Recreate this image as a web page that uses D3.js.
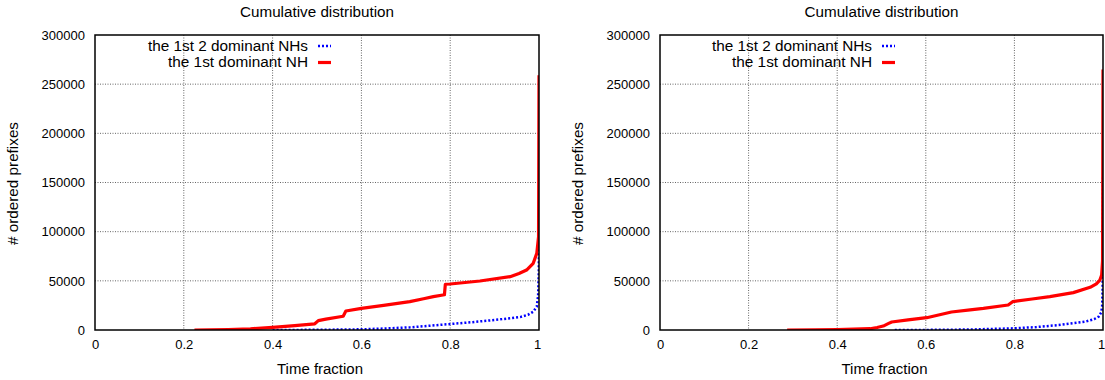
<!DOCTYPE html>
<html>
<head>
<meta charset="utf-8">
<script src="https://cdn.jsdelivr.net/npm/d3@7"></script>
<style>
  html, body { margin: 0; padding: 0; background: #fff; }
  svg { display: block; }
  text { font-family: "Liberation Sans", Arial, sans-serif; font-size: 13px; fill: #000; }
</style>
</head>
<body>
<script>
// Axis ticks shared by both panels
const xTicks = [0, 0.2, 0.4, 0.6, 0.8, 1];
const yTicks = [0, 50000, 100000, 150000, 200000, 250000, 300000];

const seriesNames = ["the 1st 2 dominant NHs", "the 1st dominant NH"];

// Left panel: time fraction vs. cumulative number of ordered prefixes
const leftTwoT = [0.40, 0.50, 0.60, 0.65, 0.71, 0.75, 0.80, 0.85, 0.90, 0.94, 0.96, 0.975, 0.987, 0.995, 0.998, 0.9995, 1.0];
const leftTwoV = [0, 200, 700, 1500, 2700, 4200, 6100, 8000, 10200, 12200, 13500, 15500, 18600, 23700, 35000, 60000, 97000];

const leftOneT = [0.224, 0.26, 0.30, 0.35, 0.40, 0.45, 0.495, 0.503, 0.52, 0.559, 0.565, 0.60, 0.65, 0.709, 0.74, 0.762, 0.787, 0.789, 0.80, 0.867, 0.935, 0.955, 0.972, 0.987, 0.995, 0.999, 1.0];
const leftOneV = [0, 100, 400, 1200, 2600, 4400, 6300, 9500, 11000, 14000, 19300, 22000, 25000, 28800, 31800, 33900, 35800, 46500, 46800, 49800, 54200, 57500, 61000, 67800, 78000, 95000, 259000];

// Right panel
const rightTwoT = [0.53, 0.60, 0.70, 0.80, 0.85, 0.90, 0.96, 0.98, 0.99, 0.996, 0.998, 0.999, 1.0];
const rightTwoV = [0, 100, 500, 1700, 3000, 5000, 8500, 11000, 13500, 18000, 23700, 40000, 155000];

const rightOneT = [0.287, 0.35, 0.40, 0.474, 0.49, 0.504, 0.515, 0.523, 0.56, 0.602, 0.658, 0.70, 0.73, 0.786, 0.796, 0.84, 0.88, 0.933, 0.971, 0.985, 0.993, 0.997, 0.999, 1.0];
const rightOneV = [0, 200, 500, 1300, 2500, 4000, 6500, 8100, 10300, 12500, 18300, 20500, 22000, 25400, 28800, 31500, 33900, 38000, 43400, 47000, 50800, 56000, 70000, 265000];

const W = 1105, H = 380;
const svg = d3.select("body").append("svg").attr("width", W).attr("height", H);
svg.append("rect").attr("width", W).attr("height", H).attr("fill", "#fff");

const panels = [
  { x0: 95, x1: 539, two: [leftTwoT, leftTwoV], one: [leftOneT, leftOneV], id: "l" },
  { x0: 660, x1: 1103, two: [rightTwoT, rightTwoV], one: [rightOneT, rightOneV], id: "r" }
];
const yTop = 35, yBot = 330;

panels.forEach(p => {
  const x = d3.scaleLinear().domain([0, 1]).range([p.x0, p.x1]);
  const y = d3.scaleLinear().domain([0, 300000]).range([yBot, yTop]);
  const g = svg.append("g");

  // grid
  g.append("g").selectAll("line").data(xTicks.slice(1, -1)).join("line")
    .attr("x1", d => x(d)).attr("x2", d => x(d)).attr("y1", yTop).attr("y2", yBot)
    .attr("stroke", "#666").attr("stroke-width", 1).attr("stroke-dasharray", "1,1.5");
  g.append("g").selectAll("line").data(yTicks.slice(1, -1)).join("line")
    .attr("x1", p.x0).attr("x2", p.x1).attr("y1", d => y(d)).attr("y2", d => y(d))
    .attr("stroke", "#666").attr("stroke-width", 1).attr("stroke-dasharray", "1,1.5");

  // tick labels (no tick marks)
  const xAxis = d3.axisBottom(x).tickValues(xTicks).tickSize(0).tickPadding(10)
    .tickFormat(d => d === 0 || d === 1 ? d3.format("d")(d) : d3.format(".1f")(d));
  const ax = g.append("g").attr("transform", `translate(0,${yBot})`).call(xAxis);
  ax.select(".domain").remove();
  ax.selectAll("text").attr("font-size", 13).attr("font-family", "Liberation Sans, Arial, sans-serif")
    .attr("fill", "#000").attr("dx", d => d === 1 ? -2 : 0);

  const yAxis = d3.axisLeft(y).tickValues(yTicks).tickSize(0).tickPadding(10).tickFormat(d3.format("d"));
  const ay = g.append("g").attr("transform", `translate(${p.x0},0)`).call(yAxis);
  ay.select(".domain").remove();
  ay.selectAll("text").attr("font-size", 13).attr("font-family", "Liberation Sans, Arial, sans-serif").attr("fill", "#000");

  // title and axis titles
  const cx = (p.x0 + p.x1) / 2;
  g.append("text").attr("x", cx).attr("y", 17).attr("text-anchor", "middle")
    .style("font-size", "14px").attr("textLength", 154).attr("lengthAdjust", "spacingAndGlyphs")
    .text("Cumulative distribution");
  g.append("text").attr("x", cx + 3).attr("y", 374).attr("text-anchor", "middle")
    .style("font-size", "14px").attr("textLength", 86).attr("lengthAdjust", "spacingAndGlyphs")
    .text("Time fraction");
  g.append("text").attr("transform", `translate(${p.x0 - 77},${(yTop + yBot) / 2 + 1}) rotate(-90)`)
    .attr("text-anchor", "middle")
    .style("font-size", "14px").attr("textLength", 123).attr("lengthAdjust", "spacingAndGlyphs")
    .text("# ordered prefixes");

  // clip
  svg.append("clipPath").attr("id", "clip-" + p.id).append("rect")
    .attr("x", p.x0).attr("y", yTop).attr("width", p.x1 - p.x0).attr("height", yBot - yTop);

  const line = d3.line().x(d => x(d[0])).y(d => y(d[1]));
  const twoPts = p.two[0].map((t, i) => [t, p.two[1][i]]);
  const onePts = p.one[0].map((t, i) => [t, p.one[1][i]]);

  g.append("path").attr("clip-path", `url(#clip-${p.id})`).attr("d", line(twoPts))
    .attr("fill", "none").attr("stroke", "#0000ff").attr("stroke-width", 2.5)
    .attr("stroke-dasharray", "2,2");
  g.append("path").attr("clip-path", `url(#clip-${p.id})`).attr("d", line(onePts))
    .attr("fill", "none").attr("stroke", "#ff0000").attr("stroke-width", 3.2)
    .attr("stroke-linejoin", "round");

  // legend
  const lx = p.x1 - 231;
  const rows = [
    { name: seriesNames[0], color: "#0000ff", dash: "2,2", w: 2.5, yy: 46, len: 160 },
    { name: seriesNames[1], color: "#ff0000", dash: null, w: 3.2, yy: 62.5, len: 140 }
  ];
  rows.forEach(r => {
    g.append("text").attr("x", lx).attr("y", r.yy).attr("dy", "0.35em")
      .attr("text-anchor", "end")
      .style("font-size", "14px").attr("textLength", r.len).attr("lengthAdjust", "spacingAndGlyphs")
      .text(r.name);
    g.append("line").attr("x1", lx + 10).attr("x2", lx + 23).attr("y1", r.yy).attr("y2", r.yy)
      .attr("stroke", r.color).attr("stroke-width", r.w)
      .attr("stroke-dasharray", r.dash);
  });

  // frame
  g.append("rect").attr("x", p.x0).attr("y", yTop).attr("width", p.x1 - p.x0).attr("height", yBot - yTop)
    .attr("fill", "none").attr("stroke", "#000").attr("stroke-width", 1.5);
});
</script>
</body>
</html>
